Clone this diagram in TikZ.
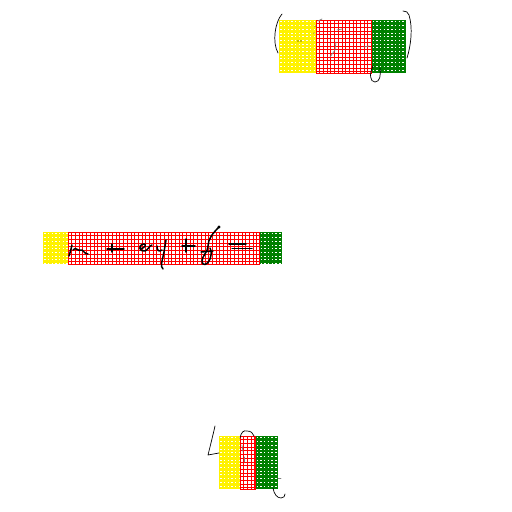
\documentclass[tikz,border=0pt]{standalone}
\usetikzlibrary{calc}
\tikzset{
  redgrid/.style={red, line width=0.8pt},
  cellborder/.style={draw=red, line width=0.9pt},
  dotline/.style={white, line width=0.8pt, dash pattern=on 1.4pt off 2.3pt},
  ink/.style={black, line width=0.7pt, line cap=round, line join=round},
  thickink/.style={black, line width=1.5pt, line cap=round, line join=round},
  faintink/.style={gray, line width=0.7pt, line cap=round}
}
% yellow | red grid | green strip: x yellow, x red, x green, x end, y top, y bottom
\newcommand\cellstrip[6]{%
  \fill[yellow] (#1,#5) rectangle (#2,#6);
  \fill[green!50!black] (#3,#5) rectangle (#4,#6);
  \fill[white] (#2,#5) rectangle (#3,#6);
  \begin{scope}
    \clip (#1,#5) rectangle (#2,#6);
    \foreach \j in {0,...,16}
      \draw[dotline] ({#1+1.2},{#5+1.8+\j*3.7}) -- (#2,{#5+1.8+\j*3.7});
  \end{scope}
  \begin{scope}
    \clip (#3,#5) rectangle (#4,#6);
    \foreach \j in {0,...,16}
      \draw[dotline] ({#3+1.6},{#5+1.8+\j*3.7}) -- (#4,{#5+1.8+\j*3.7});
  \end{scope}
  \begin{scope}
    \clip (#2,#5) rectangle (#3,#6);
    \foreach \i in {0,...,60}
      \draw[redgrid] ({#2+\i*3.7},#5) -- ({#2+\i*3.7},#6);
    \foreach \j in {0,...,16}
      \draw[redgrid] (#2,{#5+\j*3.7}) -- (#3,{#5+\j*3.7});
  \end{scope}
  \draw[cellborder] (#2,#5) rectangle (#3,#6);
}

\begin{document}
\begin{tikzpicture}[x=1pt, y=-1pt]
  \useasboundingbox (0,0) rectangle (512,512);

  % top strip
  \cellstrip{279}{316}{371}{406}{20}{73}
  \draw[ink] (282,14) .. controls (275,22) and (272,42) .. (278,53);
  \draw[ink] (403,11) .. controls (406,11) and (408,12) .. (409,15) .. controls (413,28) and (411,45) .. (407,58);
  \draw[ink] (373,66) .. controls (369,74) and (370,82) .. (375,82) .. controls (380,82) and (381,75) .. (380,68);
  \draw[faintink] (318,21) -- (322,19);
  \draw[faintink] (337,30) -- (342,29);
  \draw[faintink] (336,42) -- (335,50) -- (330,57);
  \draw[faintink] (364,47) -- (369,46);
  \fill (298,41) circle (0.6) (301,41) circle (0.6) (315,26) circle (0.5) (314,33) circle (0.5);

  % middle strip
  \cellstrip{43}{68}{259}{282}{232}{264}
  \draw[thickink] (72,245) .. controls (71,249) and (70,253) .. (69,256);
  \draw[thickink] (73,250) .. controls (76,246) and (78,252) .. (81,250) .. controls (83,249) and (84,254) .. (88,254);
  \draw[thickink] (107,249) -- (124,249);
  \draw[thickink] (112,244) -- (112,252);
  \draw[thickink] (140,249) .. controls (146,248) and (147,243) .. (143,244) .. controls (138,245) and (139,252) .. (145,251) .. controls (148,250) and (149,246) .. (152,245);
  \draw[thickink] (157,246) .. controls (157,251) and (159,252) .. (162,250);
  \draw[thickink] (166,240) -- (164,252) .. controls (162,262) and (160,266) .. (163,269);
  \draw[thickink] (186,239) -- (186,252);
  \draw[thickink] (182,246) -- (195,246);
  \draw[thickink] (219,227) .. controls (213,233) and (208,239) .. (208,246) .. controls (208,252) and (202,256) .. (202,261) .. controls (202,266) and (207,266) .. (210,259) .. controls (212,254) and (211,250) .. (210,248);
  \draw[thickink] (201,252) -- (213,251);
  \fill (219,227) circle (1.6);
  \draw[thickink] (229,244) -- (246,244);
  \draw[thickink] (232,248.5) -- (252,248.5);

  % bottom strip
  \cellstrip{219}{240}{255}{278}{436}{489}
  \draw[ink] (215,426) .. controls (213,435) and (210,447) .. (208,455) -- (219,453);
  \draw[ink] (240,438) .. controls (241,432) and (244,430) .. (247,431) .. controls (251,431) and (253,433) .. (254,436);
  \draw[faintink] (242,445) -- (243,452);
  \draw[faintink] (244,457) -- (244,462);
  \draw[ink] (273,488) .. controls (274,494) and (277,498) .. (281,498) .. controls (284,498) and (285,496) .. (285,494);
  \draw[faintink] (278,478) -- (281,478);
\end{tikzpicture}
\end{document}
